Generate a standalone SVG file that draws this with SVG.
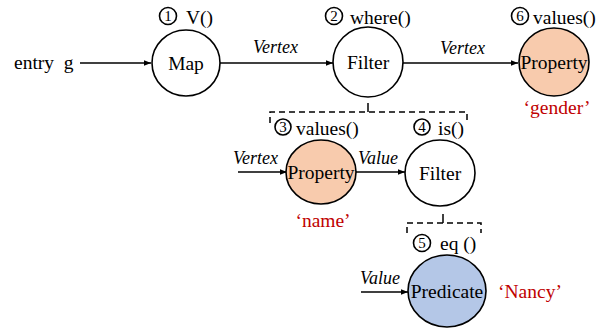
<svg xmlns="http://www.w3.org/2000/svg" width="607" height="331" viewBox="0 0 607 331">
<defs>
<marker id="ah" viewBox="0 0 10 10" refX="10" refY="5" markerWidth="7" markerHeight="7" markerUnits="userSpaceOnUse" orient="auto">
<path d="M0,1 L10,5 L0,9 z" fill="#000"/>
</marker>
</defs>
<style>
text{font-family:"Liberation Serif","Times New Roman",serif;fill:#000}
.t{font-size:19.5px}
.lb{font-size:19.5px}
.it{font-size:18px;font-style:italic}
.red{font-size:19.5px;fill:#c00000}
.num{font-size:15px}
.node{stroke:#000;stroke-width:1.6}
.cn{fill:none;stroke:#000;stroke-width:1.6}
.line{fill:none;stroke:#000;stroke-width:1.5}
.dash{fill:none;stroke:#000;stroke-width:1.5;stroke-dasharray:6,4}
</style>
<rect width="607" height="331" fill="#fff"/>

<g id="connectors">
<line class="line" x1="80" y1="63" x2="151" y2="63" marker-end="url(#ah)"/>
<line class="line" x1="220" y1="63" x2="333" y2="63" marker-end="url(#ah)"/>
<line class="line" x1="403" y1="63" x2="518" y2="63" marker-end="url(#ah)"/>
<line class="line" x1="238" y1="172" x2="287" y2="172" marker-end="url(#ah)"/>
<line class="line" x1="356" y1="172" x2="405" y2="172" marker-end="url(#ah)"/>
<line class="line" x1="361" y1="292" x2="408" y2="292" marker-end="url(#ah)"/>
<line class="line" x1="368" y1="103" x2="368" y2="112"/>
<path class="dash" d="M270,123 V112 H467 V123"/>
<line class="line" x1="443" y1="214" x2="443" y2="223"/>
<path class="dash" d="M407,233 V223 H481 V233"/>
</g>

<g id="entry">
<text class="t" x="14" y="69" xml:space="preserve">entry  g</text>
</g>

<g id="map">
<ellipse class="node" cx="186" cy="63" rx="34" ry="33" fill="#fff"/>
<text class="t" x="186" y="70" text-anchor="middle">Map</text>
<circle class="cn" cx="168" cy="16" r="8.5"/>
<text class="num" x="168" y="21" text-anchor="middle">1</text>
<text class="lb" x="186" y="24">V()</text>
</g>

<g id="filter1">
<ellipse class="node" cx="368" cy="62" rx="35" ry="35" fill="#fff"/>
<text class="t" x="368" y="69" text-anchor="middle">Filter</text>
<circle class="cn" cx="334" cy="16" r="8.5"/>
<text class="num" x="334" y="21" text-anchor="middle">2</text>
<text class="lb" x="350" y="24">where()</text>
</g>

<g id="property6">
<ellipse class="node" cx="554" cy="62" rx="35" ry="34" fill="#f8cbad"/>
<text class="t" x="554" y="69" text-anchor="middle">Property</text>
<circle class="cn" cx="520" cy="16" r="8.5"/>
<text class="num" x="520" y="21" text-anchor="middle">6</text>
<text class="lb" x="533" y="24">values()</text>
<text class="red" x="557" y="114" text-anchor="middle">‘gender’</text>
</g>

<g id="property3">
<ellipse class="node" cx="321" cy="172" rx="35" ry="32" fill="#f8cbad"/>
<text class="t" x="321" y="179" text-anchor="middle">Property</text>
<circle class="cn" cx="283" cy="127" r="8"/>
<text class="num" x="283" y="132" text-anchor="middle">3</text>
<text class="lb" x="296" y="135">values()</text>
<text class="red" x="323" y="227" text-anchor="middle">‘name’</text>
</g>

<g id="filter4">
<ellipse class="node" cx="440" cy="173" rx="35" ry="33" fill="#fff"/>
<text class="t" x="440" y="180" text-anchor="middle">Filter</text>
<circle class="cn" cx="422" cy="127" r="8"/>
<text class="num" x="422" y="132" text-anchor="middle">4</text>
<text class="lb" x="438" y="135">is()</text>
</g>

<g id="predicate">
<ellipse class="node" cx="447" cy="291" rx="39" ry="36" fill="#b4c7e7"/>
<text class="t" x="447" y="298" text-anchor="middle">Predicate</text>
<circle class="cn" cx="422" cy="243" r="8.5"/>
<text class="num" x="422" y="248" text-anchor="middle">5</text>
<text class="lb" x="440" y="250">eq ()</text>
<text class="red" x="530" y="298" text-anchor="middle">‘Nancy’</text>
</g>

<g id="edge-labels">
<text class="it" x="253" y="53">Vertex</text>
<text class="it" x="440" y="54">Vertex</text>
<text class="it" x="233" y="164">Vertex</text>
<text class="it" x="358" y="164">Value</text>
<text class="it" x="360" y="284">Value</text>
</g>
</svg>
